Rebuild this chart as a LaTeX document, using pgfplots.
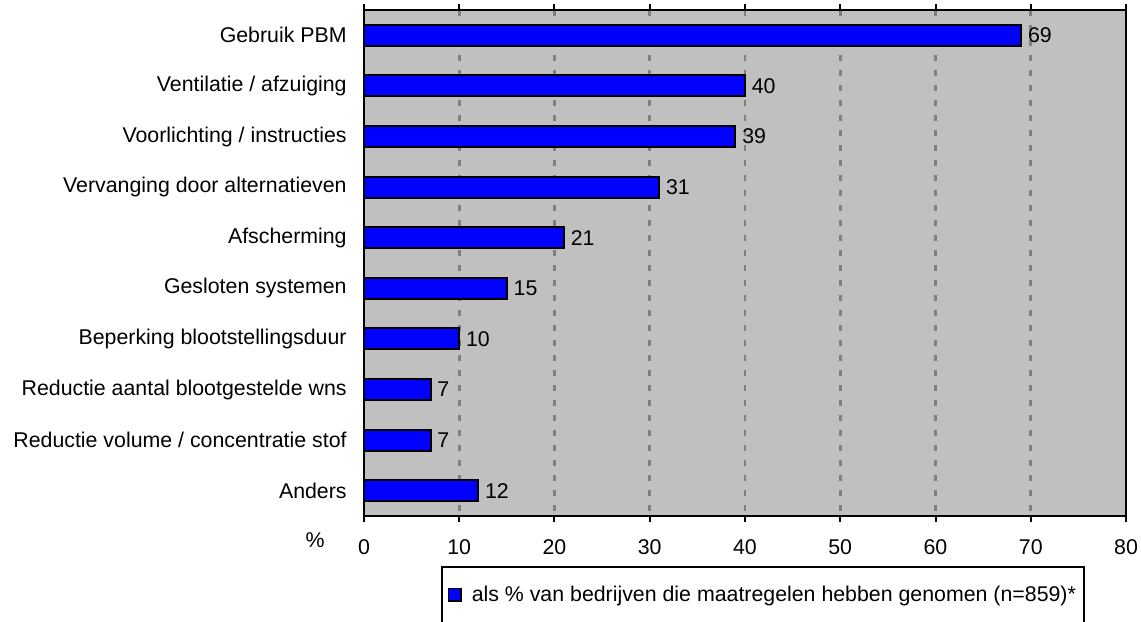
\documentclass[border=0pt]{standalone}
\usepackage{fontspec}
\setmainfont{Liberation Sans}
\usepackage{pgfplots}
\pgfplotsset{compat=1.18}
\definecolor{plotbg}{RGB}{192,192,192}
\definecolor{gridgray}{RGB}{128,128,128}
\definecolor{barblue}{RGB}{0,0,255}

\begin{document}
\begin{tikzpicture}[font=\fontsize{16}{19}\selectfont]
\begin{axis}[
  name=ax,
  scale only axis,
  width=571.5pt, height=379.5pt,
  xbar,
  bar width=15.75pt,
  xmin=0, xmax=80,
  ymin=-0.5, ymax=9.5,
  y dir=reverse,
  ytick={0,...,9},
  yticklabels={Gebruik PBM,Ventilatie / afzuiging,Voorlichting / instructies,
    Vervanging door alternatieven,Afscherming,Gesloten systemen,
    Beperking blootstellingsduur,Reductie aantal blootgestelde wns,
    Reductie volume / concentratie stof,Anders},
  xtick={0,10,...,80},
  axis background/.style={fill=plotbg},
  axis line style={line width=1.5pt},
  tick align=outside,
  x tick style={black,line width=1.5pt},
  major tick length=4.5pt,
  y tick style={draw=none},
  xmajorgrids,
  grid style={gridgray,line width=2pt,dash pattern=on 4.5pt off 6.75pt},
  /pgf/number format/assume math mode=true,
  xticklabel style={yshift=-10pt},
  yticklabel style={xshift=-5pt},
  nodes near coords,
  every node near coord/.append style={black,xshift=1pt},
  legend style={name=leg,at={(rel axis cs:0.1024,-0.101)},anchor=north west,
    draw=none,fill=none,inner xsep=4pt,inner ysep=12pt,
    /tikz/every odd column/.append style={column sep=5.5pt}},
  legend cell align=left,
  legend image code/.code={\draw[fill=barblue,draw=black,line width=1.2pt]
    (0pt,-4.6pt) rectangle (9.4pt,4.6pt);},
]
\addplot[fill=barblue,draw=black,line width=1.5pt] coordinates {
(69,0) (40,1) (39,2) (31,3) (21,4) (15,5) (10,6) (7,7) (7,8) (12,9)};
\addlegendentry{als \% van bedrijven die maatregelen hebben genomen (n=859)*}
\end{axis}
\draw[line width=1.5pt] ([yshift=-12pt]leg.south west) -- (leg.north west)
  -- (leg.north east) -- ([yshift=-12pt]leg.south east);
\node[anchor=center] at ([xshift=-36.75pt,yshift=-18pt]ax.south west) {\%};
\pgfresetboundingbox
\path[use as bounding box] ([xshift=-273pt,yshift=-78.75pt]ax.south west)
  rectangle ([xshift=11.25pt,yshift=7.5pt]ax.north east);
\end{tikzpicture}
\end{document}
